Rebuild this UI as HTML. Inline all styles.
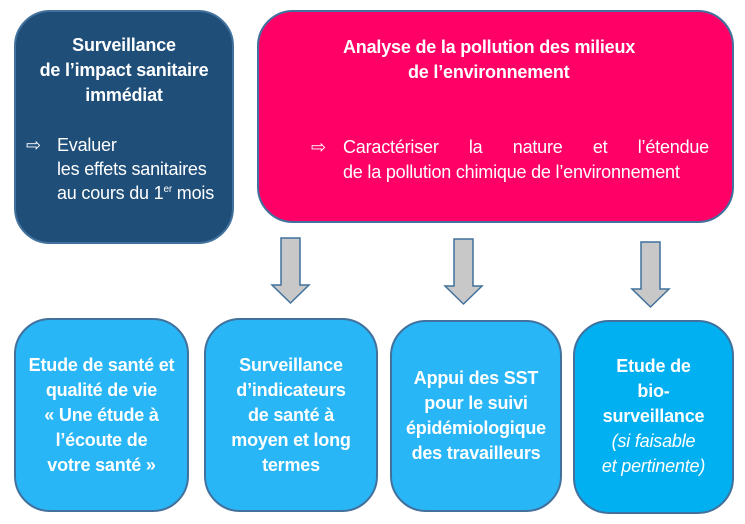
<!DOCTYPE html>
<html><head><meta charset="utf-8"><style>
body{margin:0;width:745px;height:524px;background:#fff;position:relative;overflow:hidden;font-family:"Liberation Sans",sans-serif;color:#fff}
.b{position:absolute;box-sizing:border-box;border:2px solid #41719c;border-radius:36px}
.t{position:absolute;font-size:18px;line-height:25px;white-space:nowrap;letter-spacing:-0.2px}
.bold{font-weight:bold}
.c{text-align:center}
</style></head><body>
<div class="b" style="left:14px;top:10px;width:220px;height:234px;background:#1f4e79"></div>
<div class="b" style="left:257px;top:10px;width:477px;height:213px;background:#ff0066"></div>
<div class="t bold c" style="left:14px;top:33px;width:220px">Surveillance<br>de l’impact sanitaire<br>immédiat</div>
<div class="t" style="left:26px;top:133px">⇨</div>
<div class="t" style="left:57px;top:133px;line-height:24px">Evaluer<br>les effets sanitaires<br>au cours du 1<sup style="font-size:10px;line-height:0">er</sup> mois</div>
<div class="t bold" style="left:343px;top:35px">Analyse de la pollution des milieux</div>
<div class="t bold" style="left:408px;top:60px">de l’environnement</div>
<div class="t" style="left:311px;top:135px">⇨</div>
<div class="t" style="left:343px;top:135px;width:366px;text-align:justify;text-align-last:justify;white-space:normal">Caractériser la nature et l’étendue</div>
<div class="t" style="left:343px;top:160px">de la pollution chimique de l’environnement</div>
<svg style="position:absolute;left:0;top:0" width="745" height="524">
<g fill="#c8c8c8" stroke="#41719c" stroke-width="1.5">
<polygon points="281,238 300,238 300,285 309,285 290.5,303 272,285 281,285"/>
<polygon points="454,239 473,239 473,286 482,286 463.5,304 445,286 454,286"/>
<polygon points="641,242 660,242 660,289 669,289 650.5,307 632,289 641,289"/>
</g></svg>
<div class="b" style="left:14px;top:318px;width:175px;height:194px;background:#29b6f6"></div>
<div class="b" style="left:204px;top:318px;width:174px;height:194px;background:#29b6f6"></div>
<div class="b" style="left:390px;top:320px;width:172px;height:192px;background:#29b6f6"></div>
<div class="b" style="left:573px;top:320px;width:161px;height:194px;background:#00b0f0"></div>
<div class="t bold c" style="left:14px;top:353px;width:175px">Etude de santé et<br>qualité de vie<br>« Une étude à<br>l’écoute de<br>votre santé »</div>
<div class="t bold c" style="left:204px;top:353px;width:174px">Surveillance<br>d’indicateurs<br>de santé à<br>moyen et long<br>termes</div>
<div class="t bold c" style="left:390px;top:366px;width:172px">Appui des SST<br>pour le suivi<br>épidémiologique<br>des travailleurs</div>
<div class="t c" style="left:573px;top:354px;width:161px"><b>Etude de<br>bio-<br>surveillance</b><br><i>(si faisable<br>et pertinente)</i></div>
</body></html>
